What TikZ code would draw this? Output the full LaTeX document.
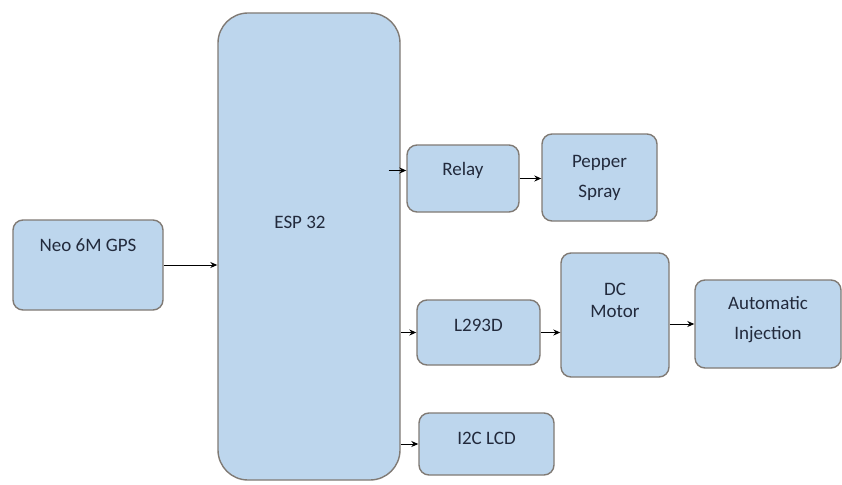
\documentclass[tikz,border=0pt]{standalone}
\usepackage{fontspec}
\setmainfont{Carlito}
\usepackage{xcolor}
\usetikzlibrary{arrows.meta}
\definecolor{boxfill}{RGB}{189,214,237}
\definecolor{boxline}{RGB}{128,122,116}
\definecolor{boxtext}{RGB}{34,42,60}
\tikzset{
  blockbox/.style={rectangle, fill=boxfill, draw=boxline, line width=1.4pt, rounded corners=10pt, inner sep=0pt},
  blocktext/.style={text=boxtext, font=\fontsize{19}{22}\selectfont, align=center},
  link/.style={-{Stealth[length=7pt,width=6pt]}, line width=1pt}
}
\begin{document}
\begin{tikzpicture}[x=1pt,y=-1pt]
\useasboundingbox (0,0) rectangle (842,484);
% blocks
\node[blockbox, minimum width=150pt, minimum height=90pt] (gps) at (88,265) {};
\node[blocktext] at ([yshift=20pt]gps.center) {Neo 6M GPS};
\node[blockbox, rounded corners=30pt, minimum width=182pt, minimum height=467pt] (esp) at (309,246.5) {};
\node[blocktext] at ([xshift=-9pt,yshift=24pt]esp.center) {ESP 32};
\node[blockbox, minimum width=112pt, minimum height=67pt] (relay) at (463,178.5) {};
\node[blocktext] at ([yshift=8pt]relay.center) {Relay};
\node[blockbox, minimum width=115pt, minimum height=87pt, blocktext] (pepper) at (599.5,177.5) {Pepper\\[8pt]Spray};
\node[blockbox, minimum width=123pt, minimum height=65pt] (l293d) at (478.5,332.5) {};
\node[blocktext] at ([yshift=7pt]l293d.center) {L293D};
\node[blockbox, minimum width=108pt, minimum height=124pt] (dcm) at (615,315) {};
\node[blocktext] at ([yshift=15pt]dcm.center) {DC\\Motor};
\node[blockbox, minimum width=146pt, minimum height=88pt] (inj) at (768,324) {};
\node[blocktext] at ([yshift=4pt]inj.center) {Automatic\\[8pt]Injection};
\node[blockbox, minimum width=135pt, minimum height=62pt] (lcd) at (486.5,444) {};
\node[blocktext] at ([yshift=6pt]lcd.center) {I2C LCD};
% connections
\draw[link] (gps.east) -- (esp.west |- gps.east);
\coordinate (relayin) at ([yshift=8pt]relay.west);
\draw[link] ([xshift=-12pt]esp.east |- relayin) -- (relayin);
\draw[link] (relay.east) -- (pepper.west |- relay.east);
\draw[link] (esp.east |- l293d.west) -- (l293d.west);
\draw[link] (l293d.east) -- (dcm.west |- l293d.east);
\draw[link] (dcm.east |- inj.west) -- (inj.west);
\draw[link] (esp.east |- lcd.west) -- (lcd.west);
\end{tikzpicture}
\end{document}
